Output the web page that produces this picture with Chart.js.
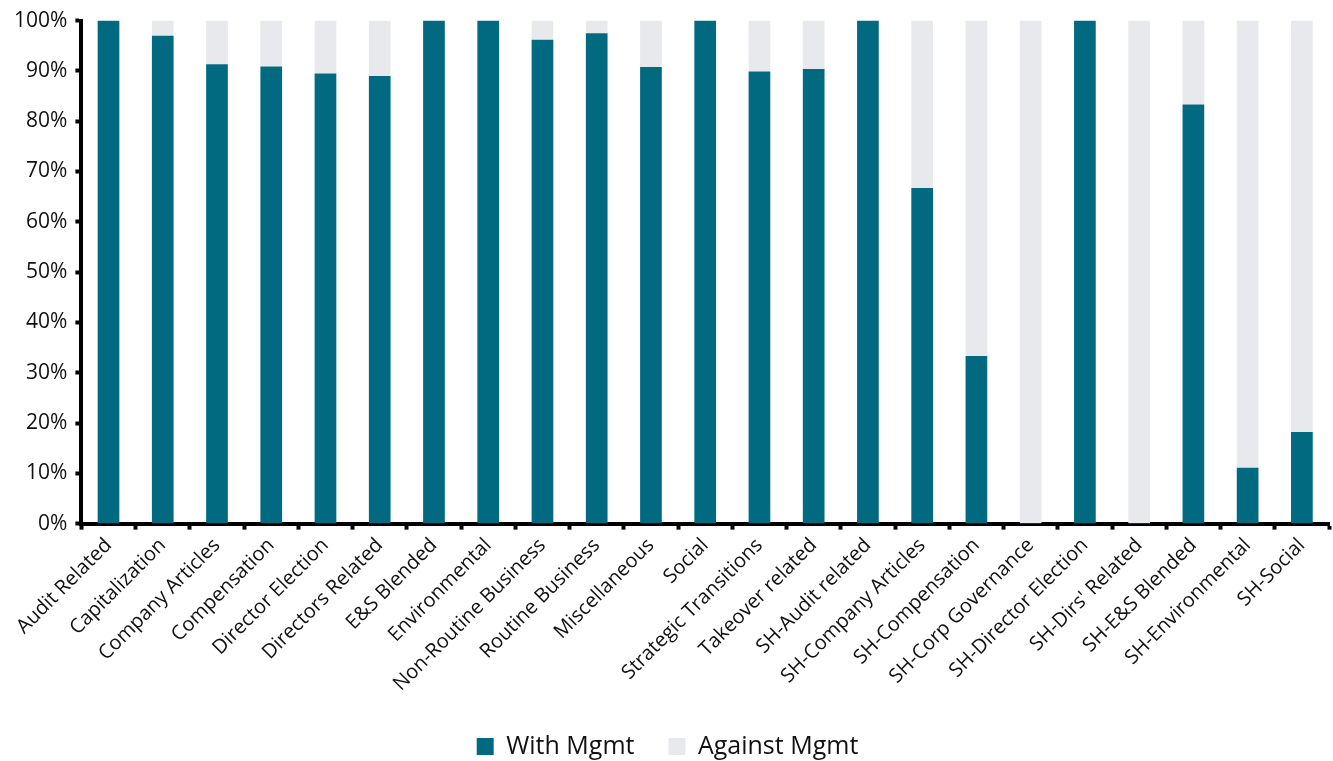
<!DOCTYPE html>
<html>
<head>
<meta charset="utf-8">
<script src="https://cdn.jsdelivr.net/npm/chart.js@4/dist/chart.umd.min.js"></script>
<style>
html,body{margin:0;padding:0;background:#fff;}
#wrap{width:1333px;height:761px;position:relative;}
</style>
</head>
<body>
<div id="wrap"><canvas id="c"></canvas></div>
<script>
// 議案カテゴリ別の賛否（%）
const categories = [
  "Audit Related","Capitalization","Company Articles","Compensation","Director Election",
  "Directors Related","E&S Blended","Environmental","Non-Routine Business","Routine Business",
  "Miscellaneous","Social","Strategic Transitions","Takeover related","SH-Audit related",
  "SH-Company Articles","SH-Compensation","SH-Corp Governance","SH-Director Election",
  "SH-Dirs' Related","SH-E&S Blended","SH-Environmental","SH-Social"
];
const withMgmt = [100,97.0,91.3,90.9,89.5,89.0,100,100,96.2,97.5,90.8,100,89.9,90.4,100,66.7,33.3,0,100,0,83.3,11.1,18.2];
const againstMgmt = [0,3.0,8.7,9.1,10.5,11.0,0,0,3.8,2.5,9.2,0,10.1,9.6,0,33.3,66.7,100,0,100,16.7,88.9,81.8];
const yTicks = [0,10,20,30,40,50,60,70,80,90,100];

const TEAL = "#016A80";
const GREY = "#E8E9ED";
const FONT = "'Open Sans', sans-serif";
const INK = "#111";

new Chart(document.getElementById("c"), {
  type: "bar",
  data: {
    labels: categories,
    datasets: [
      {label:"With Mgmt",data:withMgmt,backgroundColor:TEAL,barPercentage:0.8,categoryPercentage:0.5},
      {label:"Against Mgmt",data:againstMgmt,backgroundColor:GREY,barPercentage:0.8,categoryPercentage:0.5}
    ]
  },
  options: {
    responsive:true,maintainAspectRatio:false,animation:false,
    layout:{padding:{left:6,right:4,top:12,bottom:-8}},
    plugins:{
      tooltip:{enabled:false},
      legend:{
        position:"bottom",
        labels:{color:INK,font:{family:FONT,size:25},boxWidth:17,boxHeight:17,padding:34}
      }
    },
    scales:{
      x:{
        stacked:true,
        border:{display:true,color:"#000",width:4},
        grid:{display:true,drawOnChartArea:false,drawTicks:true,tickLength:6,tickWidth:4,tickColor:"#000",offset:true},
        ticks:{color:INK,font:{family:FONT,size:20},autoSkip:false,maxRotation:45,minRotation:45,padding:4}
      },
      y:{
        stacked:true,min:0,max:100,
        afterBuildTicks:function(ax){ax.ticks=yTicks.map(function(v){return {value:v};});},
        border:{display:true,color:"#000",width:4},
        grid:{display:true,drawOnChartArea:false,drawTicks:true,tickLength:6,tickWidth:4,tickColor:"#000"},
        ticks:{color:INK,font:{family:FONT,size:21},padding:8,callback:function(v){return v+"%";}}
      }
    }
  }
});
</script>
</body>
</html>
